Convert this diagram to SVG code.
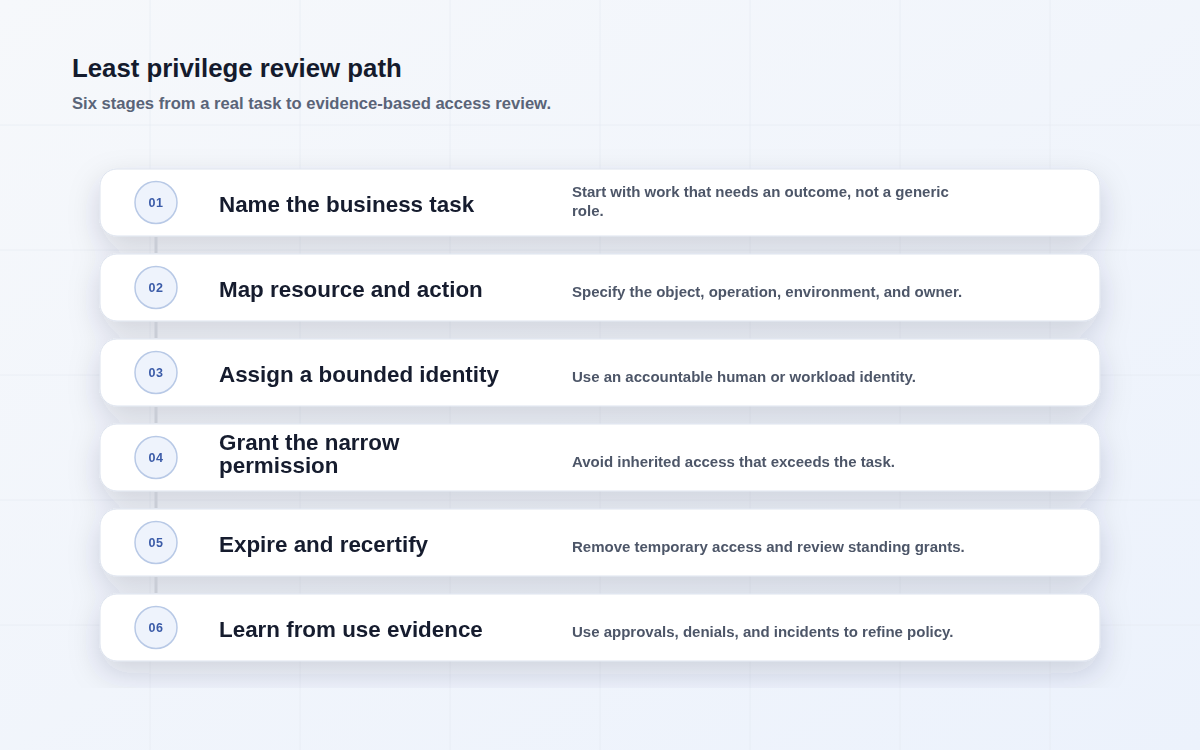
<svg xmlns="http://www.w3.org/2000/svg" width="1200" height="750" viewBox="0 0 1200 750">
  <defs>
    <linearGradient id="bg" x1="0" y1="0" x2="1" y2="1">
      <stop offset="0" stop-color="#f6f8fb"/>
      <stop offset="1" stop-color="#ecf2fc"/>
    </linearGradient>
    <filter id="shadow" filterUnits="userSpaceOnUse" x="40" y="130" width="1120" height="558">
      <feDropShadow dx="0" dy="12" stdDeviation="15" flood-color="#1e2a50" flood-opacity="0.17"/>
    </filter>
  </defs>
  <style>
    .grid { stroke: #e4e9f1; stroke-width: 1; opacity: 0.6; }
    .card { fill: #ffffff; stroke: #dde3ee; stroke-width: 1; }
    .badge { fill: #eef3fc; stroke: #b8c9e6; stroke-width: 1.5; }
    .num { font-family: "Liberation Sans", Arial, sans-serif; font-weight: 700; font-size: 12.5px; fill: #3b5ba8; text-anchor: middle; letter-spacing: 0.6px; }
    .ttl { font-family: "Liberation Sans", Arial, sans-serif; font-weight: 700; font-size: 22.4px; fill: #141b2d; }
    .desc { font-family: "Liberation Sans", Arial, sans-serif; font-weight: 700; font-size: 15px; fill: #4d5668; }
    .conn { stroke: #c9cdd6; stroke-width: 3; }
  </style>
  <rect width="1200" height="750" fill="url(#bg)"/>
  <g id="grid">
    <line class="grid" x1="150" y1="0" x2="150" y2="750"/>
    <line class="grid" x1="300" y1="0" x2="300" y2="750"/>
    <line class="grid" x1="450" y1="0" x2="450" y2="750"/>
    <line class="grid" x1="600" y1="0" x2="600" y2="750"/>
    <line class="grid" x1="750" y1="0" x2="750" y2="750"/>
    <line class="grid" x1="900" y1="0" x2="900" y2="750"/>
    <line class="grid" x1="1050" y1="0" x2="1050" y2="750"/>
    <line class="grid" x1="0" y1="125" x2="1200" y2="125"/>
    <line class="grid" x1="0" y1="250" x2="1200" y2="250"/>
    <line class="grid" x1="0" y1="375" x2="1200" y2="375"/>
    <line class="grid" x1="0" y1="500" x2="1200" y2="500"/>
    <line class="grid" x1="0" y1="625" x2="1200" y2="625"/>
  </g>
  <g id="header">
    <text x="72" y="77" font-family="Liberation Sans, Arial, sans-serif" font-weight="700" font-size="25.8" fill="#141b2d">Least privilege review path</text>
    <text x="72" y="109" font-family="Liberation Sans, Arial, sans-serif" font-weight="700" font-size="16.6" fill="#5a6478">Six stages from a real task to evidence-based access review.</text>
  </g>
  <g filter="url(#shadow)">
    <g id="stage1">
      <rect class="card" x="100" y="169" width="1000" height="67" rx="17"/>
      <circle class="badge" cx="156" cy="202.5" r="21"/>
      <text class="num" x="156" y="207">01</text>
      <text class="ttl" x="219" y="212">Name the business task</text>
      <text class="desc" x="572" y="197">Start with work that needs an outcome, not a generic</text>
      <text class="desc" x="572" y="216">role.</text>
    </g>
    <g id="stage2">
      <rect class="card" x="100" y="254" width="1000" height="67" rx="17"/>
      <circle class="badge" cx="156" cy="287.5" r="21"/>
      <text class="num" x="156" y="292">02</text>
      <text class="ttl" x="219" y="297">Map resource and action</text>
      <text class="desc" x="572" y="297">Specify the object, operation, environment, and owner.</text>
    </g>
    <g id="stage3">
      <rect class="card" x="100" y="339" width="1000" height="67" rx="17"/>
      <circle class="badge" cx="156" cy="372.5" r="21"/>
      <text class="num" x="156" y="377">03</text>
      <text class="ttl" x="219" y="382">Assign a bounded identity</text>
      <text class="desc" x="572" y="382">Use an accountable human or workload identity.</text>
    </g>
    <g id="stage4">
      <rect class="card" x="100" y="424" width="1000" height="67" rx="17"/>
      <circle class="badge" cx="156" cy="457.5" r="21"/>
      <text class="num" x="156" y="462">04</text>
      <text class="ttl" x="219" y="450">Grant the narrow</text>
      <text class="ttl" x="219" y="473">permission</text>
      <text class="desc" x="572" y="467">Avoid inherited access that exceeds the task.</text>
    </g>
    <g id="stage5">
      <rect class="card" x="100" y="509" width="1000" height="67" rx="17"/>
      <circle class="badge" cx="156" cy="542.5" r="21"/>
      <text class="num" x="156" y="547">05</text>
      <text class="ttl" x="219" y="552">Expire and recertify</text>
      <text class="desc" x="572" y="552">Remove temporary access and review standing grants.</text>
    </g>
    <g id="stage6">
      <rect class="card" x="100" y="594" width="1000" height="67" rx="17"/>
      <circle class="badge" cx="156" cy="627.5" r="21"/>
      <text class="num" x="156" y="632">06</text>
      <text class="ttl" x="219" y="637">Learn from use evidence</text>
      <text class="desc" x="572" y="637">Use approvals, denials, and incidents to refine policy.</text>
    </g>
  </g>
  <g id="connectors">
    <line class="conn" x1="156" y1="237" x2="156" y2="253"/>
    <line class="conn" x1="156" y1="322" x2="156" y2="338"/>
    <line class="conn" x1="156" y1="407" x2="156" y2="423"/>
    <line class="conn" x1="156" y1="492" x2="156" y2="508"/>
    <line class="conn" x1="156" y1="577" x2="156" y2="593"/>
  </g>
</svg>
